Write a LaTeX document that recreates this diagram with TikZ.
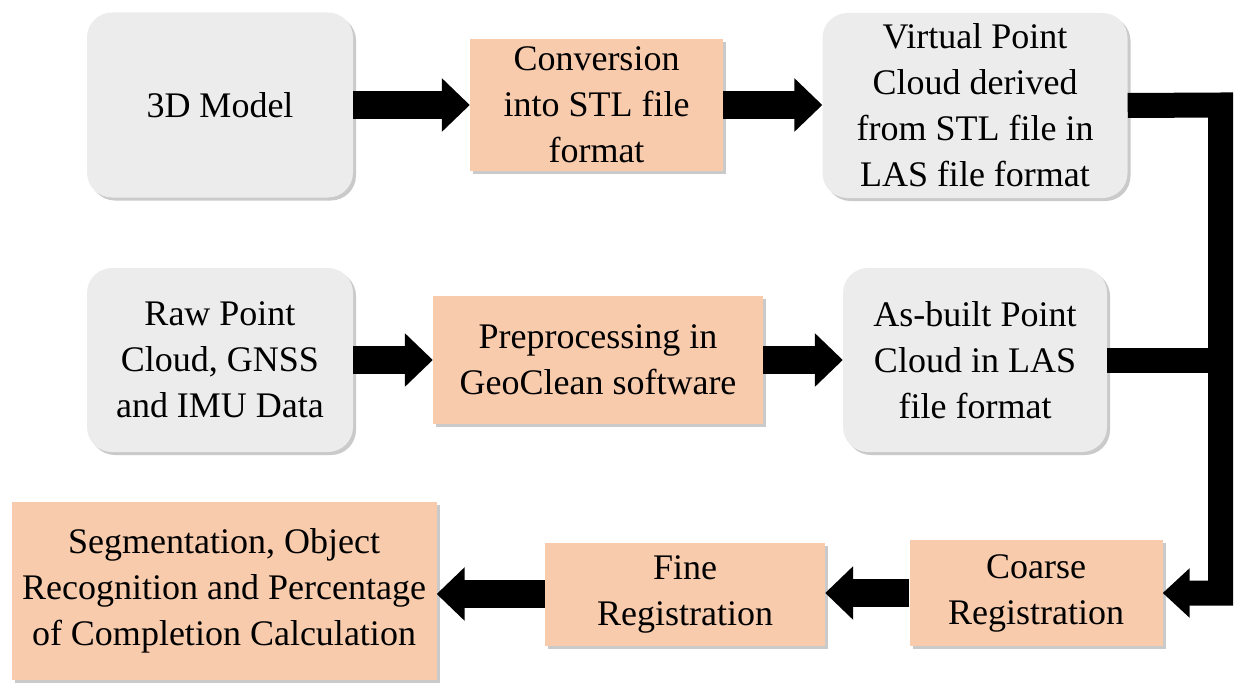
\documentclass[tikz,border=0pt]{standalone}
\usepackage{fontspec}
\setmainfont{Liberation Serif}
\usetikzlibrary{arrows.meta,shadows}
\definecolor{boxgray}{HTML}{ECECEC}
\definecolor{boxorange}{HTML}{F8CBAD}
\tikzset{
  base/.style={draw=none, align=center, inner sep=2pt, font=\fontsize{36}{46}\selectfont,
    drop shadow={shadow xshift=3pt, shadow yshift=-3pt, opacity=0.35, fill=black!60}},
  graybox/.style={base, fill=boxgray, rounded corners=25pt},
  orangebox/.style={base, fill=boxorange},
  blockarrow/.style={line width=28pt, -{Triangle[length=28pt,width=52pt]}},
  elbow/.style={line width=25pt, line join=miter, -{Triangle[length=27pt,width=48pt]}},
  busline/.style={line width=25pt},
}
\begin{document}
\begin{tikzpicture}[x=1pt,y=-1pt]
\useasboundingbox (0,0) rectangle (1239,685);
\node[graybox, minimum width=266pt, minimum height=185pt] (m3d) at (220,105) {3D Model};
\node[orangebox, minimum width=253pt, minimum height=131pt] (conv) at (596.5,105) {Conversion\\into STL file\\format};
\node[graybox, minimum width=305pt, minimum height=185pt] (vpc) at (975,105.5) {Virtual Point\\Cloud derived\\from STL file in\\LAS file format};
\node[graybox, minimum width=266pt, minimum height=184pt] (raw) at (220,360) {Raw Point\\Cloud, GNSS\\and IMU Data};
\node[orangebox, minimum width=330pt, minimum height=128pt] (pre) at (598,360) {Preprocessing in\\GeoClean software};
\node[graybox, minimum width=264pt, minimum height=184pt] (asb) at (975,360) {As-built Point\\Cloud in LAS\\file format};
\node[orangebox, minimum width=253pt, minimum height=106pt] (coarse) at (1036,593) {Coarse\\Registration};
\node[orangebox, minimum width=280pt, minimum height=103pt] (fine) at (685,594) {Fine\\Registration};
\node[orangebox, minimum width=425pt, minimum height=178pt] (seg) at (224,591) {Segmentation, Object\\Recognition and Percentage\\of Completion Calculation};

\draw[blockarrow] (m3d.east) -- (conv.west);
\draw[blockarrow] (conv.east) -- (vpc.west |- conv.east);
\draw[blockarrow] (raw.east) -- (pre.west);
\draw[blockarrow] (pre.east) -- (asb.west);
\draw[blockarrow] (coarse.west) -- (fine.east |- coarse.west);
\draw[blockarrow] (fine.west) -- (seg.east |- fine.west);

\coordinate (bus) at (1220.5,105);
\draw[elbow] (vpc.east) -- (bus) |- (coarse.east);
\draw[busline] (asb.east) -- (asb.east -| bus);
\end{tikzpicture}
\end{document}
